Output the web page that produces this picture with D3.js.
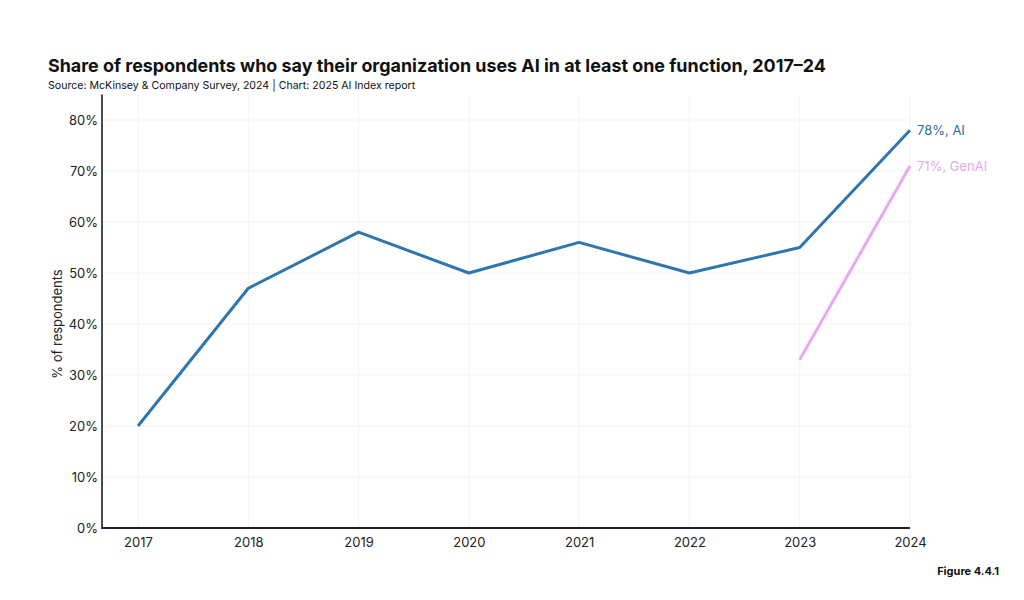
<!DOCTYPE html>
<html><head><meta charset="utf-8">
<script src="https://cdn.jsdelivr.net/npm/d3@7"></script>
<style>body{margin:0;background:#fff;} svg{display:block;font-family:Inter, "Noto Sans", sans-serif;}</style>
</head><body>
<svg id="c" width="1024" height="600"></svg>
<script>
const years = [2017, 2018, 2019, 2020, 2021, 2022, 2023, 2024];
const aiValues = [20, 47, 58, 50, 56, 50, 55, 78];
const genaiYears = [2023, 2024];
const genaiValues = [33, 71];
const yTicks = [0, 10, 20, 30, 40, 50, 60, 70, 80];

const svg = d3.select("#c");
const x = d3.scalePoint().domain(years).range([138, 910]);
const y = d3.scaleLinear().domain([0, 80]).range([528, 120]);
const plotLeft = 102, plotRight = 910, plotTop = y(85);

svg.append("text").attr("x", 48).attr("y", 72).attr("font-size", 17.9).attr("font-weight", 700).attr("fill", "#111")
  .text("Share of respondents who say their organization uses AI in at least one function, 2017–24");
svg.append("text").attr("x", 48).attr("y", 89).attr("font-size", 10.6).attr("fill", "#111")
  .text("Source: McKinsey & Company Survey, 2024 | Chart: 2025 AI Index report");

// gridlines
svg.append("g").selectAll("line").data(yTicks.slice(1)).join("line")
  .attr("x1", plotLeft).attr("x2", plotRight).attr("y1", d => y(d)).attr("y2", d => y(d))
  .attr("stroke", "#f3f3f3").attr("stroke-width", 1);
svg.append("g").selectAll("line").data(years).join("line")
  .attr("x1", d => x(d)).attr("x2", d => x(d)).attr("y1", plotTop).attr("y2", 528)
  .attr("stroke", "#f3f3f3").attr("stroke-width", 1);

// axes
const yAxis = svg.append("g").attr("transform", `translate(${plotLeft},0)`)
  .call(d3.axisLeft(y).tickValues(yTicks).tickFormat(d => d + "%").tickSize(0).tickPadding(4));
yAxis.select(".domain").remove();
yAxis.selectAll("text").attr("font-size", 13).attr("fill", "#222").attr("font-family", "Inter, sans-serif");
svg.append("line").attr("x1", plotLeft).attr("x2", plotLeft).attr("y1", plotTop).attr("y2", 529).attr("stroke", "#111").attr("stroke-width", 1.5);

const xAxis = svg.append("g").attr("transform", `translate(0,528)`)
  .call(d3.axisBottom(x).tickSize(0).tickPadding(10));
xAxis.select(".domain").remove();
xAxis.selectAll("text").attr("font-size", 13).attr("fill", "#222").attr("font-family", "Inter, sans-serif");
svg.append("line").attr("x1", plotLeft).attr("x2", plotRight).attr("y1", 528).attr("y2", 528).attr("stroke", "#222").attr("stroke-width", 2);

svg.append("text").attr("transform", `translate(62,${y(40)}) rotate(-90)`).attr("text-anchor", "middle")
  .attr("font-size", 13).attr("fill", "#222").text("% of respondents");

// lines
const line = d3.line().x(d => x(d[0])).y(d => y(d[1]));
svg.append("path").datum(years.map((yr, i) => [yr, aiValues[i]])).attr("d", line)
  .attr("fill", "none").attr("stroke", "#2e76ad").attr("stroke-width", 3).attr("stroke-linejoin", "round");
svg.append("path").datum(genaiYears.map((yr, i) => [yr, genaiValues[i]])).attr("d", line)
  .attr("fill", "none").attr("stroke", "#eaa8f0").attr("stroke-width", 3);

svg.append("text").attr("x", x(2024) + 7).attr("y", y(78) + 5).attr("font-size", 13).attr("fill", "#2f6e9c")
  .text(aiValues[7] + "%, AI");
svg.append("text").attr("x", x(2024) + 7).attr("y", y(71) + 5).attr("font-size", 13).attr("fill", "#e7a6ee")
  .text(genaiValues[1] + "%, GenAI");

svg.append("text").attr("x", 999).attr("y", 575).attr("text-anchor", "end").attr("font-size", 11).attr("font-weight", 700).attr("fill", "#111")
  .text("Figure 4.4.1");
</script>
</body></html>
